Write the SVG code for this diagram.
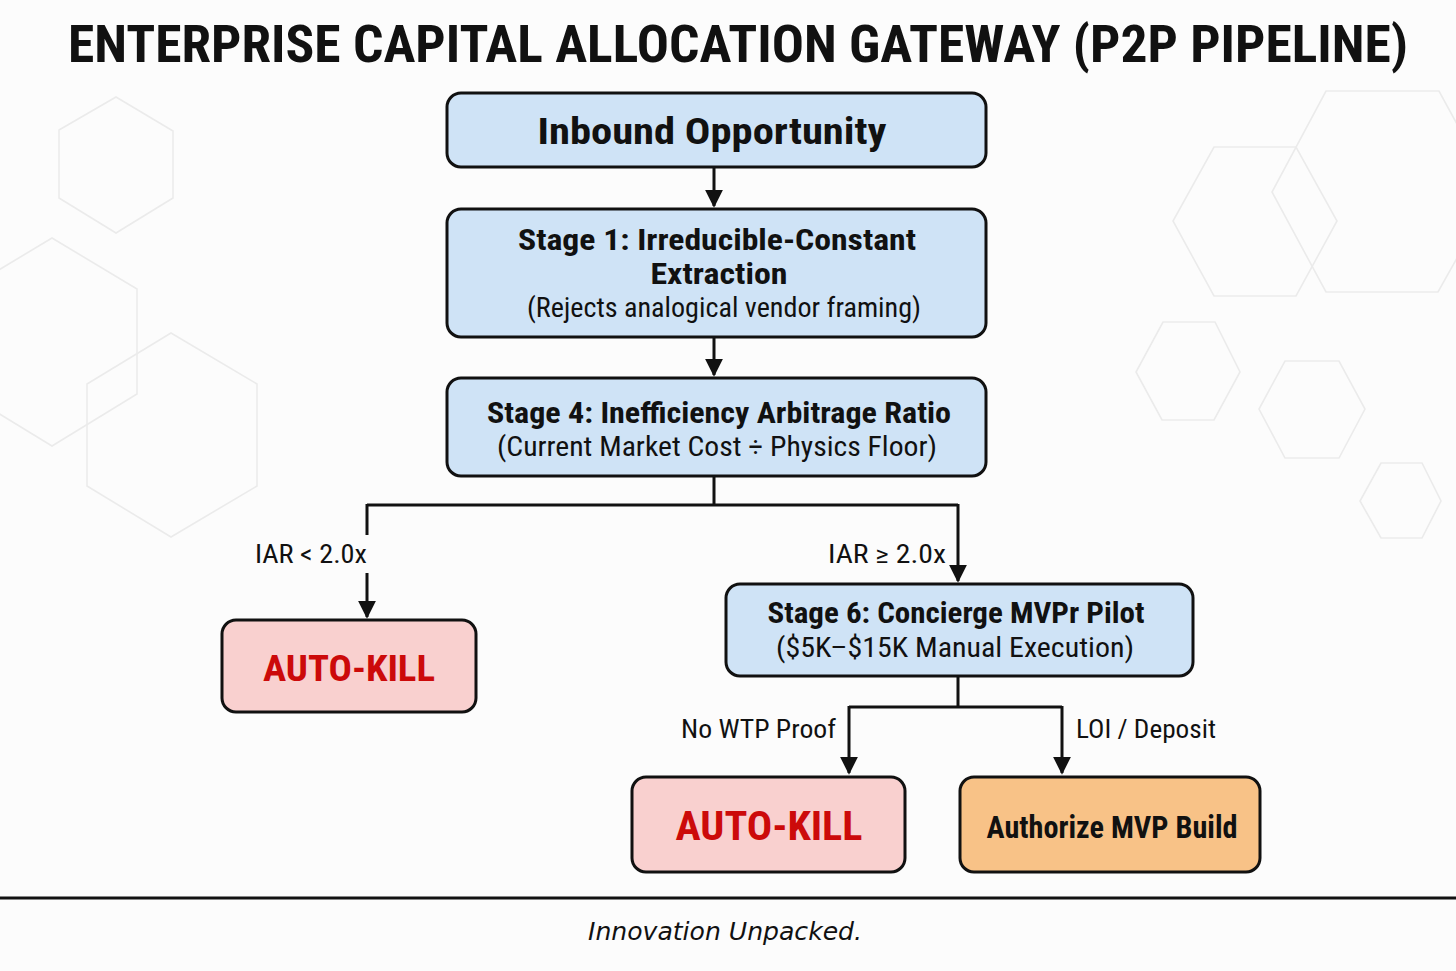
<svg xmlns="http://www.w3.org/2000/svg" width="1456" height="971" viewBox="0 0 1456 971">
<defs>
<style>
.hex{fill:none;stroke:#ebebeb;stroke-width:1.6}
.box{stroke:#111;stroke-width:3}
.blue{fill:#cfe3f6}
.pink{fill:#f9d0cf}
.orange{fill:#f8c287}
.t{font-family:"Liberation Sans Narrow","Roboto Condensed","Liberation Sans",Arial,sans-serif;fill:#111;text-anchor:middle}
.b{font-weight:bold}
.kill{fill:#cc0a0a;font-weight:bold}
.lbl{font-family:"Liberation Sans Narrow","Roboto Condensed","Liberation Sans",Arial,sans-serif;fill:#111;font-size:25px}
.conn{fill:none;stroke:#111;stroke-width:3}
</style>
<marker id="ah" viewBox="0 0 10 10" refX="9" refY="5" markerWidth="6" markerHeight="6.5" markerUnits="strokeWidth" orient="auto">
<path d="M0,0 L10,5 L0,10 z" fill="#111"/>
</marker>
</defs>
<rect width="1456" height="971" fill="#fcfcfc"/>
<g id="background">
<polygon class="hex" points="116,97 173,131 173,198 116,233 59,198 59,130"/>
<polygon class="hex" points="52,238 137,289 137,394 52,446 -33,394 -33,289"/>
<polygon class="hex" points="171,333 257,384 257,486 171,537 87,486 87,384"/>
<polygon class="hex" points="1326,91 1439,91 1494,192 1438,292 1326,292 1272,192"/>
<polygon class="hex" points="1214,147 1296,147 1337,221 1296,296 1214,296 1173,221"/>
<polygon class="hex" points="1163,322 1215,322 1240,372 1214,420 1162,420 1136,372"/>
<polygon class="hex" points="1285,361 1339,361 1365,409 1339,458 1285,458 1259,409"/>
<polygon class="hex" points="1381,463 1422,463 1441,501 1422,538 1381,538 1360,501"/>
</g>
<text id="title" class="t b" x="738" y="62" font-size="52" textLength="1340" lengthAdjust="spacingAndGlyphs">ENTERPRISE CAPITAL ALLOCATION GATEWAY (P2P PIPELINE)</text>
<g id="connectors">
<path class="conn" d="M714,167 V206" marker-end="url(#ah)"/>
<path class="conn" d="M714,337 V375" marker-end="url(#ah)"/>
<path class="conn" d="M714,476 V505 M367,505 H958"/>
<path class="conn" d="M367,504 V535"/>
<path class="conn" d="M367,573 V617" marker-end="url(#ah)"/>
<path class="conn" d="M958,504 V581" marker-end="url(#ah)"/>
<path class="conn" d="M958,676 V707 M849,707 H1062"/>
<path class="conn" d="M849,706 V773" marker-end="url(#ah)"/>
<path class="conn" d="M1062,706 V773" marker-end="url(#ah)"/>
<text class="lbl" x="255" y="563" textLength="112" lengthAdjust="spacingAndGlyphs">IAR &lt; 2.0x</text>
<text class="lbl" x="828" y="563" textLength="118" lengthAdjust="spacingAndGlyphs">IAR ≥ 2.0x</text>
<text class="lbl" x="681" y="738" textLength="155" lengthAdjust="spacingAndGlyphs">No WTP Proof</text>
<text class="lbl" x="1076" y="738" textLength="140" lengthAdjust="spacingAndGlyphs">LOI / Deposit</text>
</g>
<g id="inbound">
<rect class="box blue" x="447" y="93" width="539" height="74" rx="14"/>
<text class="t b" x="712" y="144" font-size="36" textLength="349" lengthAdjust="spacingAndGlyphs">Inbound Opportunity</text>
</g>
<g id="stage1">
<rect class="box blue" x="447" y="209" width="539" height="128" rx="14"/>
<text class="t b" x="717" y="250" font-size="30" textLength="398" lengthAdjust="spacingAndGlyphs">Stage 1: Irreducible-Constant</text>
<text class="t b" x="719" y="284" font-size="30" textLength="137" lengthAdjust="spacingAndGlyphs">Extraction</text>
<text class="t" x="724" y="317" font-size="27" textLength="394" lengthAdjust="spacingAndGlyphs">(Rejects analogical vendor framing)</text>
</g>
<g id="stage4">
<rect class="box blue" x="447" y="378" width="539" height="98" rx="14"/>
<text class="t b" x="719" y="423" font-size="30" textLength="464" lengthAdjust="spacingAndGlyphs">Stage 4: Inefficiency Arbitrage Ratio</text>
<text class="t" x="717" y="456" font-size="27" textLength="440" lengthAdjust="spacingAndGlyphs">(Current Market Cost ÷ Physics Floor)</text>
</g>
<g id="autokill1">
<rect class="box pink" x="222" y="620" width="254" height="92" rx="14"/>
<text class="t kill" x="349" y="681" font-size="37" textLength="172" lengthAdjust="spacingAndGlyphs">AUTO-KILL</text>
</g>
<g id="stage6">
<rect class="box blue" x="726" y="584" width="467" height="92" rx="14"/>
<text class="t b" x="956" y="623" font-size="30" textLength="377" lengthAdjust="spacingAndGlyphs">Stage 6: Concierge MVPr Pilot</text>
<text class="t" x="955" y="657" font-size="27" textLength="358" lengthAdjust="spacingAndGlyphs">($5K–$15K Manual Execution)</text>
</g>
<g id="autokill2">
<rect class="box pink" x="632" y="777" width="273" height="95" rx="14"/>
<text class="t kill" x="769" y="840" font-size="41" textLength="187" lengthAdjust="spacingAndGlyphs">AUTO-KILL</text>
</g>
<g id="authorize">
<rect class="box orange" x="960" y="777" width="300" height="95" rx="14"/>
<text class="t b" x="1112" y="838" font-size="32" textLength="251" lengthAdjust="spacingAndGlyphs">Authorize MVP Build</text>
</g>
<g id="footer">
<line x1="0" y1="898" x2="1456" y2="898" stroke="#111" stroke-width="3"/>
<text x="725" y="940" font-family="DejaVu Sans Condensed, DejaVu Sans, sans-serif" font-style="italic" font-size="25" fill="#111" text-anchor="middle" textLength="274" lengthAdjust="spacingAndGlyphs">Innovation Unpacked.</text>
</g>
</svg>
